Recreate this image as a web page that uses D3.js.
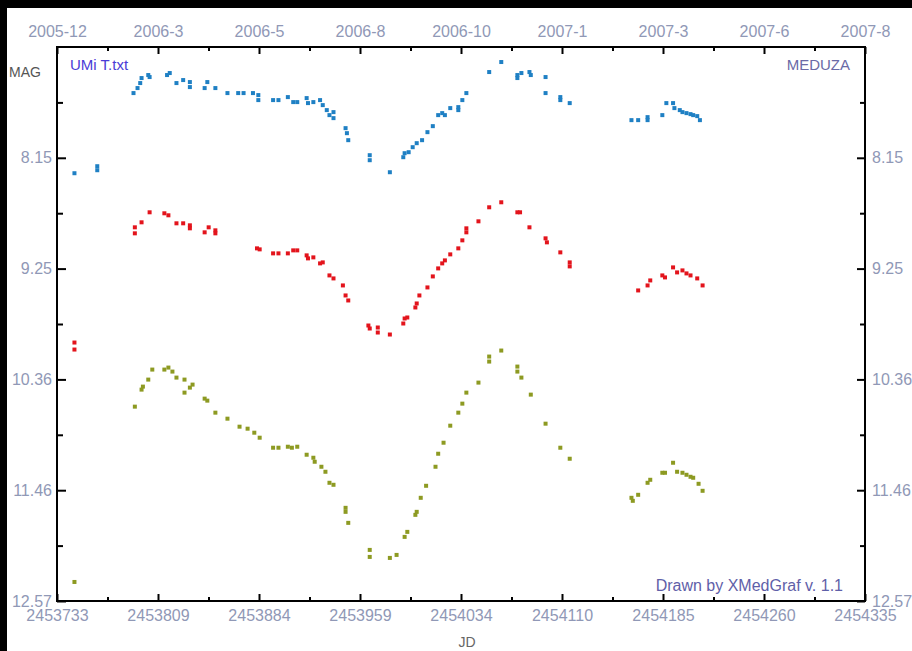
<!DOCTYPE html>
<html>
<head>
<meta charset="utf-8">
<script src="https://cdn.jsdelivr.net/npm/d3@7"></script>
<style>
  body { margin: 0; background: #000; }
  svg { display: block; }
  text { font-family: "Liberation Sans", Arial, sans-serif; }
</style>
</head>
<body>
<svg width="912" height="651"></svg>
<script>
// --- data (JD, magnitude) ---
var jdBlue = [2453746, 2453763, 2453763, 2453790, 2453793, 2453795, 2453796, 2453801, 2453802, 2453815, 2453817,
  2453822, 2453827, 2453832, 2453832, 2453843, 2453845, 2453851, 2453860, 2453868, 2453872, 2453879, 2453883,
  2453883, 2453894, 2453898, 2453905, 2453909, 2453912, 2453919, 2453920, 2453924, 2453929, 2453931, 2453934,
  2453936, 2453939, 2453939, 2453948, 2453949, 2453950, 2453966, 2453966, 2453981, 2453991, 2453992, 2453995,
  2453998, 2454001, 2454005, 2454009, 2454013, 2454017, 2454020, 2454022, 2454026, 2454032, 2454032, 2454035,
  2454038, 2454055, 2454064, 2454076, 2454076, 2454079, 2454085, 2454086, 2454097, 2454097, 2454108, 2454108,
  2454115, 2454161, 2454166, 2454173, 2454173, 2454184, 2454187, 2454192, 2454193, 2454197, 2454199, 2454202,
  2454205, 2454207, 2454210, 2454212];
var magBlue = [8.30, 8.23, 8.27, 7.50, 7.45, 7.40, 7.35, 7.32, 7.34, 7.32, 7.30,
  7.40, 7.37, 7.39, 7.44, 7.45, 7.39, 7.45, 7.50, 7.50, 7.50, 7.50, 7.52,
  7.57, 7.57, 7.57, 7.54, 7.59, 7.59, 7.55, 7.60, 7.59, 7.57, 7.62, 7.67,
  7.72, 7.69, 7.75, 7.85, 7.90, 7.97, 8.12, 8.17, 8.29, 8.14, 8.10, 8.09,
  8.04, 8.00, 7.97, 7.89, 7.83, 7.72, 7.70, 7.72, 7.65, 7.67, 7.64, 7.57,
  7.50, 7.29, 7.19, 7.35, 7.32, 7.30, 7.29, 7.32, 7.34, 7.50, 7.54, 7.57,
  7.60, 7.77, 7.77, 7.77, 7.74, 7.72, 7.60, 7.60, 7.65, 7.67, 7.69, 7.70,
  7.71, 7.72, 7.73, 7.77];

var jdRed = [2453746, 2453746, 2453791, 2453791, 2453796, 2453802, 2453813, 2453816, 2453822, 2453827, 2453832,
  2453832, 2453843, 2453846, 2453851, 2453851, 2453882, 2453884, 2453894, 2453898, 2453905, 2453909, 2453912,
  2453919, 2453920, 2453924, 2453929, 2453931, 2453936, 2453939, 2453946, 2453948, 2453950, 2453965, 2453966,
  2453972, 2453972, 2453981, 2453991, 2453992, 2453994, 2454000, 2454001, 2454003, 2454009, 2454013, 2454017,
  2454020, 2454022, 2454026, 2454032, 2454035, 2454038, 2454038, 2454047, 2454055, 2454064, 2454076, 2454078,
  2454085, 2454097, 2454098, 2454108, 2454115, 2454115, 2454166, 2454173, 2454175, 2454184, 2454186, 2454192,
  2454195, 2454199, 2454202, 2454205, 2454210, 2454214];
var magRed = [9.99, 10.06, 8.84, 8.90, 8.79, 8.69, 8.70, 8.72, 8.80, 8.80, 8.82,
  8.85, 8.89, 8.84, 8.87, 8.90, 9.05, 9.06, 9.10, 9.10, 9.10, 9.07, 9.07,
  9.12, 9.15, 9.14, 9.20, 9.19, 9.32, 9.35, 9.42, 9.52, 9.57, 9.82, 9.85,
  9.84, 9.89, 9.91, 9.80, 9.75, 9.74, 9.64, 9.60, 9.52, 9.44, 9.33, 9.25,
  9.20, 9.17, 9.11, 9.05, 8.97, 8.89, 8.85, 8.78, 8.64, 8.59, 8.69, 8.69,
  8.84, 8.95, 8.99, 9.09, 9.19, 9.23, 9.47, 9.42, 9.37, 9.32, 9.34, 9.24,
  9.29, 9.27, 9.30, 9.32, 9.35, 9.42];

var jdOlive = [2453746, 2453791, 2453796, 2453797, 2453801, 2453804, 2453813, 2453816, 2453819, 2453822, 2453828,
  2453828, 2453832, 2453834, 2453843, 2453845, 2453851, 2453860, 2453869, 2453875, 2453880, 2453884, 2453894,
  2453898, 2453905, 2453908, 2453912, 2453919, 2453924, 2453925, 2453930, 2453933, 2453936, 2453939, 2453948,
  2453948, 2453950, 2453966, 2453966, 2453981, 2453986, 2453992, 2453994, 2454000, 2454001, 2454004, 2454008,
  2454015, 2454017, 2454021, 2454026, 2454032, 2454035, 2454038, 2454047, 2454055, 2454055, 2454064, 2454076,
  2454076, 2454079, 2454086, 2454097, 2454108, 2454115, 2454161, 2454162, 2454166, 2454173, 2454175, 2454184,
  2454186, 2454192, 2454195, 2454199, 2454202, 2454205, 2454207, 2454211, 2454214];
var magOlive = [12.38, 10.63, 10.46, 10.43, 10.36, 10.26, 10.26, 10.24, 10.28, 10.34, 10.36,
  10.49, 10.44, 10.41, 10.55, 10.57, 10.69, 10.75, 10.83, 10.85, 10.89, 10.94, 11.04,
  11.04, 11.03, 11.04, 11.03, 11.11, 11.14, 11.18, 11.23, 11.28, 11.39, 11.41, 11.64,
  11.68, 11.79, 12.06, 12.13, 12.14, 12.11, 11.93, 11.88, 11.71, 11.68, 11.54, 11.42,
  11.23, 11.10, 10.99, 10.82, 10.69, 10.60, 10.49, 10.39, 10.13, 10.18, 10.07, 10.23,
  10.28, 10.34, 10.51, 10.80, 11.04, 11.15, 11.54, 11.57, 11.51, 11.39, 11.36, 11.29,
  11.29, 11.19, 11.28, 11.29, 11.31, 11.33, 11.34, 11.40, 11.47];

var jdTickLabels = ["2453733", "2453809", "2453884", "2453959", "2454034", "2454110", "2454185", "2454260", "2454335"];
var dateTickLabels = ["2005-12", "2006-3", "2006-5", "2006-8", "2006-10", "2007-1", "2007-3", "2007-6", "2007-8"];
var magTickLabels = ["8.15", "9.25", "10.36", "11.46", "12.57"];

var jdRange = [2453733, 2454335];
var magRange = [7.04, 12.57];

var svg = d3.select("svg"),
    margin = {top: 47, right: 47, bottom: 50, left: 57},
    width = +svg.attr("width") - margin.left - margin.right,
    height = +svg.attr("height") - margin.top - margin.bottom;

var labelColor = "#9098b6";

// white paper with the black scan border top/left
svg.append("rect").attr("x", 7).attr("y", 8).attr("width", 905).attr("height", 643).attr("fill", "#fff");

var x = d3.scaleLinear().domain(jdRange).range([0, width]);
var y = d3.scaleLinear().domain(magRange).range([0, height]);

var g = svg.append("g")
    .attr("transform", "translate(" + margin.left + "," + margin.top + ")");

// evenly spaced tick positions
var nx = jdTickLabels.length - 1;
var xMajor = d3.range(nx + 1).map(function(i) { return jdRange[0] + i * (jdRange[1] - jdRange[0]) / nx; });
var xMinor = d3.range(nx).map(function(i) { return jdRange[0] + (i + 0.5) * (jdRange[1] - jdRange[0]) / nx; });
var ny = magTickLabels.length;
var yStep = (magRange[1] - magRange[0]) / ny;
var yMajor = d3.range(1, ny + 1).map(function(i) { return magRange[0] + i * yStep; });
var yMinor = d3.range(ny).map(function(i) { return magRange[0] + (i + 0.5) * yStep; });

function styleAxis(sel) {
  sel.select(".domain").remove();
  sel.selectAll(".tick line").attr("stroke", "#000").attr("stroke-width", 2);
  sel.selectAll(".tick text").attr("fill", labelColor).attr("font-size", 16)
    .attr("font-family", "'Liberation Sans', Arial, sans-serif");
}

// bottom: JD
g.append("g").attr("transform", "translate(0," + height + ")")
  .call(d3.axisBottom(x).tickValues(xMajor).tickSizeInner(-7).tickPadding(9)
    .tickFormat(function(d, i) { return jdTickLabels[i]; }))
  .call(styleAxis);
g.append("g").attr("transform", "translate(0," + height + ")")
  .call(d3.axisBottom(x).tickValues(xMinor).tickSizeInner(-4).tickFormat(""))
  .call(styleAxis);

// top: calendar dates
g.append("g")
  .call(d3.axisTop(x).tickValues(xMajor).tickSizeInner(-7).tickPadding(10)
    .tickFormat(function(d, i) { return dateTickLabels[i]; }))
  .call(styleAxis);
g.append("g")
  .call(d3.axisTop(x).tickValues(xMinor).tickSizeInner(-4).tickFormat(""))
  .call(styleAxis);

// left / right: magnitude
g.append("g")
  .call(d3.axisLeft(y).tickValues(yMajor).tickSizeInner(-9).tickPadding(5)
    .tickFormat(function(d, i) { return magTickLabels[i]; }))
  .call(styleAxis);
g.append("g")
  .call(d3.axisLeft(y).tickValues(yMinor).tickSizeInner(-6).tickFormat(""))
  .call(styleAxis);
g.append("g").attr("transform", "translate(" + width + ",0)")
  .call(d3.axisRight(y).tickValues(yMajor).tickSizeInner(-8).tickPadding(7)
    .tickFormat(function(d, i) { return magTickLabels[i]; }))
  .call(styleAxis);
g.append("g").attr("transform", "translate(" + width + ",0)")
  .call(d3.axisRight(y).tickValues(yMinor).tickSizeInner(-5).tickFormat(""))
  .call(styleAxis);

// frame
g.append("rect").attr("width", width).attr("height", height)
  .attr("fill", "none").attr("stroke", "#000").attr("stroke-width", 2);

// points
function plotSeries(jd, mag, color) {
  var pts = jd.map(function(d, i) { return {jd: d, mag: mag[i]}; });
  g.append("g").selectAll("rect")
    .data(pts)
    .enter().append("rect")
    .attr("x", function(d) { return x(d.jd) - 2; })
    .attr("y", function(d) { return y(d.mag) - 2; })
    .attr("width", 4)
    .attr("height", 4)
    .attr("fill", color);
}
plotSeries(jdBlue, magBlue, "#1f80c4");
plotSeries(jdRed, magRed, "#e3141c");
plotSeries(jdOlive, magOlive, "#8d9a22");

// texts
g.append("text").attr("x", 13).attr("y", 18).attr("dy", "0.35em")
  .attr("font-size", 15).attr("fill", "#4a3cd6").text("UMi T.txt");
g.append("text").attr("x", width - 15).attr("y", 18).attr("dy", "0.35em")
  .attr("text-anchor", "end").attr("font-size", 15).attr("fill", "#6a6aa6").text("MEDUZA");
g.append("text").attr("x", width - 22).attr("y", height - 16).attr("dy", "0.35em")
  .attr("text-anchor", "end").attr("font-size", 16).attr("fill", "#5f60a8").text("Drawn by XMedGraf v. 1.1");
svg.append("text").attr("x", 9).attr("y", 72).attr("dy", "0.35em")
  .attr("font-size", 14).attr("fill", "#555").text("MAG");
svg.append("text").attr("x", margin.left + width / 2 + 6).attr("y", 642).attr("dy", "0.35em")
  .attr("text-anchor", "middle").attr("font-size", 14).attr("fill", "#666").text("JD");
</script>
</body>
</html>
